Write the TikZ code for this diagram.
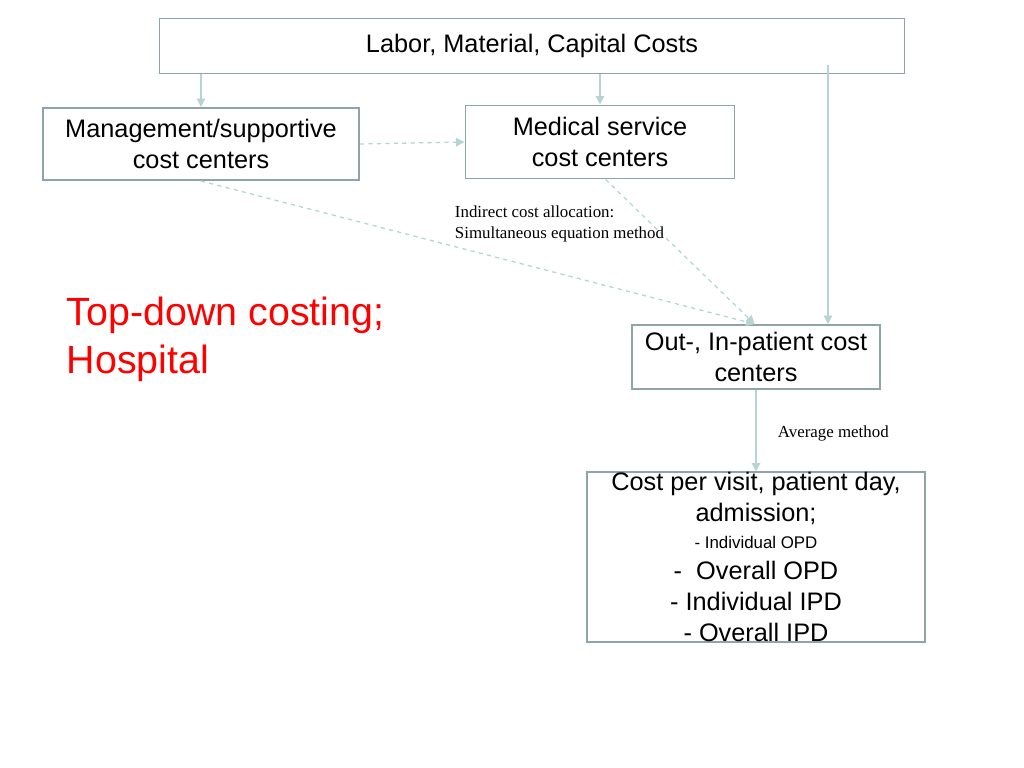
\documentclass[tikz,border=0pt]{standalone}
\usepackage{fontspec}
\setmainfont{Liberation Sans}
\newfontfamily\serifx{Liberation Serif}
\usetikzlibrary{positioning, arrows.meta}
\definecolor{boxgray}{RGB}{143, 163, 168}
\definecolor{arrowteal}{RGB}{181, 213, 211}
\tikzset{
  costbox/.style={draw=boxgray, line width=1.4pt, align=center, inner sep=0pt, font=\fontsize{18}{22}\selectfont},
  flow/.style={-{Triangle[length=6pt, width=6pt]}, arrowteal, line width=0.9pt},
  dflow/.style={flow, dashed},
}
\begin{document}
\begin{tikzpicture}[x=0.025cm, y=-0.025cm]
 \useasboundingbox (0, 0) rectangle (1024, 768);
 \node[costbox, minimum width=745*0.025cm, minimum height=55*0.025cm] (inputs) at (532, 46) {Labor, Material, Capital Costs};
 \node[costbox, minimum width=316*0.025cm, minimum height=72*0.025cm] (mgmt) at (201, 144) {Management/supportive\\cost centers};
 \node[costbox, minimum width=269*0.025cm, minimum height=73*0.025cm] (medical) at (600, 142) {Medical service\\cost centers};
 \node[costbox, minimum width=248*0.025cm, minimum height=64*0.025cm] (patient) at (756, 357) {Out-, In-patient cost\\centers};
 \node[costbox, minimum width=338*0.025cm, minimum height=165*0.025cm] (unitcost) at (756, 557)
   {Cost per visit, patient day,\\admission;\\[-3pt]
    \fontsize{12}{14.5}\selectfont - Individual OPD\\
    -\ \ Overall OPD\\
    - Individual IPD\\
    - Overall IPD};
 \coordinate (rightdrop) at (828, 65);
 \draw[flow] (inputs.south -| mgmt) -- (mgmt.north);
 \draw[flow] (inputs.south -| medical) -- (medical.north);
 \draw[flow] (rightdrop) -- (rightdrop |- patient.north);
 \draw[dflow] (mgmt.east) -- (medical.west);
 \draw[dflow] (mgmt.south) -- ([xshift=-1pt]patient.north);
 \draw[dflow] ([xshift=4pt]medical.south) -- ([xshift=-1pt]patient.north);
 \draw[flow] (patient.south) -- (unitcost.north);
 \node[align=left, anchor=west, font=\serifx\fontsize{12}{15}\selectfont] (allocnote) at (450, 224) {Indirect cost allocation:\\Simultaneous equation method};
 \node[anchor=west, font=\serifx\fontsize{12}{14}\selectfont] (avgnote) at (773, 433) {Average method};
 \node[align=left, anchor=west, text=red, font=\fontsize{28}{34}\selectfont] (title) at (62, 339) {Top-down costing;\\Hospital};
\end{tikzpicture}
\end{document}
